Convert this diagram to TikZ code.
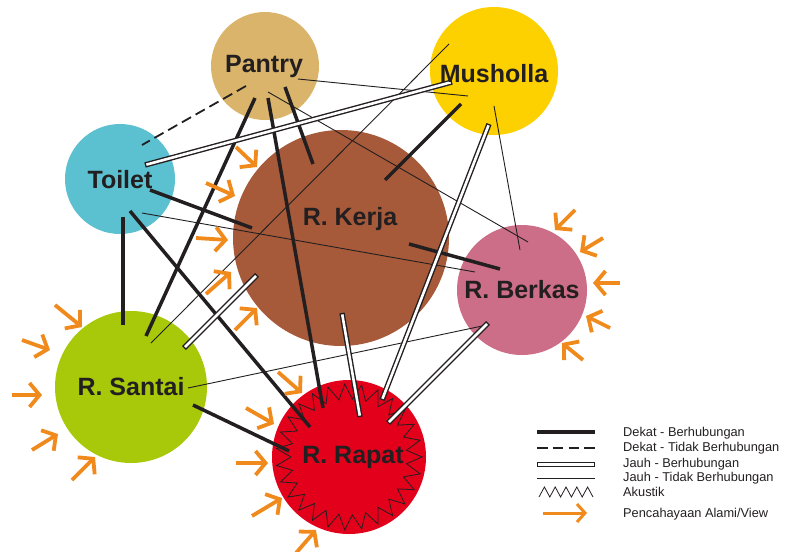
\documentclass[tikz,border=0pt]{standalone}
\usepackage{fontspec}
\setmainfont{Liberation Sans}
\usetikzlibrary{arrows.meta,calc}
\definecolor{cPantry}{RGB}{217,180,106}
\definecolor{cMush}{RGB}{253,208,0}
\definecolor{cToilet}{RGB}{91,192,208}
\definecolor{cKerja}{RGB}{166,90,58}
\definecolor{cBerkas}{RGB}{204,110,135}
\definecolor{cSantai}{RGB}{168,200,10}
\definecolor{cRapat}{RGB}{227,0,27}
\definecolor{cOrange}{RGB}{240,138,28}
\definecolor{ink}{RGB}{35,31,32}
\begin{document}
\begin{tikzpicture}[x=1pt,y=-1pt,
  room/.style={circle,inner sep=0pt,minimum size=#1},
  lbl/.style={font=\bfseries\fontsize{25}{25}\selectfont,text=ink,anchor=base,inner sep=0pt},
  dekat/.style={draw=ink,line width=3.5pt},
  dekattidak/.style={draw=ink,line width=1.8pt,dash pattern=on 10.5pt off 5.3pt},
  jauh/.style={draw=ink,line width=5.4pt,postaction={draw=white,line width=2.6pt,shorten <=1.4pt,shorten >=1.4pt}},
  jauhtidak/.style={draw=ink,line width=0.9pt},
  sun/.style={draw=cOrange,line width=3.8pt,-{Straight Barb[length=10pt,width=24pt]}},
  legsun/.style={draw=cOrange,line width=3pt,-{Straight Barb[length=8pt,width=18pt]}},
  leg/.style={font=\fontsize{12.8}{13}\selectfont,text=ink,anchor=base west,inner sep=0pt}]
\useasboundingbox (0,0) rectangle (791,551);

% rooms
\node[room=108pt,fill=cPantry] (pantry) at (265,66) {};
\node[room=128pt,fill=cMush] (musholla) at (494,71) {};
\node[room=110pt,fill=cToilet] (toilet) at (120,179) {};
\node[room=216pt,fill=cKerja] (kerja) at (341,238) {};
\node[room=130pt,fill=cBerkas] (berkas) at (522,290) {};
\node[room=152pt,fill=cSantai] (santai) at (131,387) {};
\node[room=154pt,fill=cRapat] (rapat) at (349,457) {};

% acoustic zigzag
\draw[ink,line width=0.8pt] ($(rapat)+(0:73)$)
  \foreach \i in {1,...,54} { -- ($(rapat)+({\i*6.666667}:{65.5+7.5*cos(\i*180)})$) } -- cycle;

% connector end points
\coordinate (p-t) at (246,86);  \coordinate (t-p) at (142,145);
\coordinate (p-m) at (298,79);  \coordinate (m-p) at (468,96);
\coordinate (p-b) at (268,92);  \coordinate (b-p) at (528,242);
\coordinate (m-b) at (494,106); \coordinate (b-m) at (520,250);
\coordinate (m-s) at (449,44);  \coordinate (s-m) at (151,343);
\coordinate (t-b) at (142,213); \coordinate (b-t) at (475,272);
\coordinate (s-b) at (188,388); \coordinate (b-s) at (487,325);
\coordinate (p-s) at (255,98);  \coordinate (s-p) at (146,336);
\coordinate (p-r) at (268,98);  \coordinate (r-p) at (323,408);
\coordinate (p-k) at (285,87);  \coordinate (k-p) at (313,164);
\coordinate (m-k) at (461,104); \coordinate (k-m) at (385,180);
\coordinate (t-k) at (150,190); \coordinate (k-t) at (252,228);
\coordinate (t-s) at (123,217); \coordinate (s-t) at (123,325);
\coordinate (t-r) at (130,211); \coordinate (r-t) at (310,427);
\coordinate (k-b) at (409,244); \coordinate (b-k) at (500,269);
\coordinate (s-r) at (193,405); \coordinate (r-s) at (289,451);
\coordinate (m-t) at (452,82);  \coordinate (t-m) at (145,165);
\coordinate (m-r) at (489,124); \coordinate (r-m) at (382,400);
\coordinate (k-s) at (257,275); \coordinate (s-k) at (184,348);
\coordinate (k-r) at (342,313); \coordinate (r-k) at (360,417);
\coordinate (b-r) at (488,323); \coordinate (r-b) at (388,423);

% Jauh - Tidak Berhubungan
\draw[jauhtidak] (p-m) -- (m-p);
\draw[jauhtidak] (p-b) -- (b-p);
\draw[jauhtidak] (m-b) -- (b-m);
\draw[jauhtidak] (m-s) -- (s-m);
\draw[jauhtidak] (t-b) -- (b-t);
\draw[jauhtidak] (s-b) -- (b-s);
% Dekat - Tidak Berhubungan
\draw[dekattidak] (p-t) -- (t-p);
% Dekat - Berhubungan
\draw[dekat] (p-s) -- (s-p);
\draw[dekat] (p-r) -- (r-p);
\draw[dekat] (p-k) -- (k-p);
\draw[dekat] (m-k) -- (k-m);
\draw[dekat] (t-k) -- (k-t);
\draw[dekat] (t-s) -- (s-t);
\draw[dekat] (t-r) -- (r-t);
\draw[dekat] (k-b) -- (b-k);
\draw[dekat] (s-r) -- (r-s);
% Jauh - Berhubungan
\draw[jauh] (m-t) -- (t-m);
\draw[jauh] (m-r) -- (r-m);
\draw[jauh] (k-s) -- (s-k);
\draw[jauh] (k-r) -- (r-k);
\draw[jauh] (b-r) -- (r-b);

% labels
\node[lbl] (pantryl) at (264,72) {Pantry};
\node[lbl] (musholal) at (494,82) {Musholla};
\node[lbl] (toiletl) at (120,188) {Toilet};
\node[lbl] (kerjal) at (350,225) {R. Kerja};
\node[lbl] (berkasl) at (522,298) {R. Berkas};
\node[lbl] (santail) at (131,395) {R. Santai};
\node[lbl] (rapatl) at (353,463) {R. Rapat};

% natural light / view arrows
\foreach \a/\b in {
  {236,147}/{257,167}, {206,183}/{235,196}, {196,238}/{228,240},
  {206,294}/{231,272}, {235,330}/{257,308},
  {55,305}/{82,327}, {22,340}/{50,350}, {12,395}/{42,395},
  {32,450}/{58,434}, {72,480}/{95,457},
  {278,372}/{302,393}, {246,408}/{274,424}, {236,463}/{268,463},
  {252,516}/{282,498}, {296,553}/{316,530},
  {575,210}/{555,230}, {603,238}/{580,252}, {620,283}/{593,283},
  {610,328}/{586,316}, {583,360}/{562,343}}
  { \draw[sun] (\a) -- (\b); }

% legend
\draw[dekat] (537,432) -- (595,432);
\draw[dekattidak] (537,448) -- (595,448);
\draw[jauh] (537,464.5) -- (595,464.5);
\draw[jauhtidak] (537,478) -- (595,478);
\draw[ink,line width=0.8pt] (539,497)
  \foreach \i in {1,...,10} { -- ({539+\i*5.4},{492+5*cos(\i*180)}) };
\draw[legsun] (543,513) -- (587,513);
\node[leg] (l1) at (623,436.7) {Dekat - Berhubungan};
\node[leg] (l2) at (623,451.7) {Dekat - Tidak Berhubungan};
\node[leg] (l3) at (623,467.5) {Jauh - Berhubungan};
\node[leg] (l4) at (623,481.7) {Jauh - Tidak Berhubungan};
\node[leg] (l5) at (623,496.3) {Akustik};
\node[leg] (l6) at (623,517) {Pencahayaan Alami/View};
\end{tikzpicture}
\end{document}
